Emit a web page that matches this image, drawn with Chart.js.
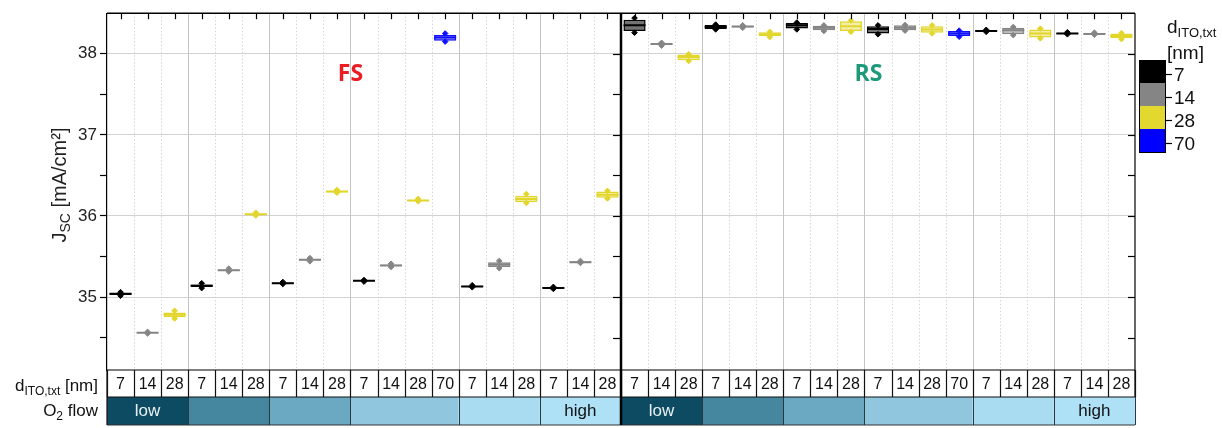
<!DOCTYPE html>
<html><head><meta charset="utf-8">
<script src="https://cdn.jsdelivr.net/npm/chart.js@4.4.1/dist/chart.umd.min.js"></script>
<style>html,body{margin:0;padding:0;background:#fff}#wrap{width:1222px;height:428px;position:relative}</style>
</head><body><div id="wrap"><canvas id="c" width="1222" height="428"></canvas></div>
<script>
// ---------- data ----------
const panels = ['FS', 'RS'];
const dITO = ['7','14','28','7','14','28','7','14','28','7','14','28','70','7','14','28','7','14','28'];
const o2Groups = ['low','','','','','high'];
const o2GroupSizes = [3,3,3,4,3,3];
const legendValues = ['7','14','28','70'];
const yTickValues = [34.5,35,35.5,36,36.5,37,37.5,38];

const fsQ1  = [35.025,34.555,34.75,35.125,35.32,36.01,35.165,35.45,36.29,35.195,35.38,36.185,38.16,35.125,35.37,36.17,35.105,35.425,36.225];
const fsMed = [35.04,34.56,34.78,35.14,35.33,36.02,35.17,35.46,36.30,35.20,35.39,36.19,38.20,35.13,35.40,36.21,35.11,35.43,36.26];
const fsQ3  = [35.05,34.565,34.81,35.155,35.34,36.03,35.18,35.47,36.31,35.205,35.40,36.20,38.23,35.14,35.43,36.25,35.12,35.44,36.30];
const fsMin = [35.015,34.55,34.735,35.11,35.315,36.005,35.16,35.44,36.285,35.19,35.37,36.18,38.15,35.12,35.355,36.16,35.10,35.42,36.215];
const fsMax = [35.06,34.57,34.83,35.17,35.35,36.04,35.185,35.48,36.32,35.21,35.41,36.21,38.25,35.145,35.445,36.27,35.125,35.445,36.31];

const rsQ1  = [38.28,38.11,37.92,38.305,38.325,38.215,38.31,38.29,38.28,38.25,38.29,38.26,38.22,38.275,38.24,38.20,38.245,38.24,38.19];
const rsMed = [38.35,38.12,37.96,38.33,38.335,38.24,38.35,38.32,38.34,38.305,38.32,38.30,38.25,38.28,38.29,38.25,38.25,38.245,38.22];
const rsQ3  = [38.42,38.13,37.99,38.355,38.345,38.265,38.38,38.345,38.40,38.34,38.35,38.34,38.28,38.29,38.32,38.30,38.26,38.255,38.25];
const rsMin = [38.26,38.10,37.91,38.30,38.32,38.205,38.30,38.28,38.27,38.24,38.285,38.25,38.21,38.27,38.23,38.19,38.24,38.235,38.18];
const rsMax = [38.44,38.135,37.995,38.36,38.35,38.27,38.385,38.35,38.41,38.35,38.355,38.35,38.285,38.295,38.33,38.31,38.265,38.26,38.255];

// ---------- styles ----------
const FONT = "'Liberation Sans', Arial, sans-serif";
const lineColors = {'7':'#000000','14':'#858585','28':'#e2d62c','70':'#1010ff'};
const fillColors = {'7':'rgba(0,0,0,0.55)','14':'rgba(133,133,133,0.5)','28':'rgba(226,214,44,0.4)','70':'rgba(16,16,255,0.4)'};
const legendColors = {'7':'#000000','14':'#858585','28':'#e3d82e','70':'#0000ff'};
const o2Colors = ['#0d4b63','#45879f','#6ba9c2','#90c7de','#a9dcf1','#aee1f6'];
const o2TextColors = ['#e8f0f3','#111','#111','#111','#111','#111'];
const panelColors = {'FS':'#ec1c24','RS':'#1e9a7b'};

const N = dITO.length;
const labels = panels.flatMap(() => dITO);
const q1 = fsQ1.concat(rsQ1), q3 = fsQ3.concat(rsQ3), med = fsMed.concat(rsMed);
const mins = fsMin.concat(rsMin), maxs = fsMax.concat(rsMax);
const groupEnds = [];
o2GroupSizes.reduce((s, g) => { s += g; groupEnds.push(s); return s; }, 0);

function richText(ctx, parts, x, y, align, color) {
  let w = 0;
  parts.forEach(p => { ctx.font = p[1] + 'px ' + FONT; w += ctx.measureText(p[0]).width; });
  let cx = align === 'right' ? x - w : align === 'center' ? x - w / 2 : x;
  ctx.textAlign = 'left'; ctx.textBaseline = 'alphabetic'; ctx.fillStyle = color || '#111';
  parts.forEach(p => { ctx.font = p[1] + 'px ' + FONT; ctx.fillText(p[0], cx, y + (p[2] || 0)); cx += ctx.measureText(p[0]).width; });
}
function seg(ctx, x0, y0, x1, y1, w, c) {
  ctx.beginPath(); ctx.lineWidth = w; ctx.strokeStyle = c || '#000';
  ctx.moveTo(x0, y0); ctx.lineTo(x1, y1); ctx.stroke();
}

const decor = {
  id: 'decor',
  beforeDatasetsDraw(chart) {
    const {ctx, chartArea: a, scales: {x}} = chart;
    ctx.save();
    for (let k = 1; k < labels.length; k++) {
      if (k === N) continue;
      const px = Math.round(x.getPixelForValue(k - 0.5)) + 0.5;
      const isGroup = groupEnds.includes(k % N);
      ctx.setLineDash(isGroup ? [] : [1.5, 2]);
      seg(ctx, px, a.top, px, a.bottom, 1, isGroup ? '#c4c4c4' : '#d6d6d6');
    }
    ctx.restore();
  },
  afterDatasetsDraw(chart) {
    const {ctx, chartArea: a, scales: {x, y}} = chart;
    ctx.save();
    const r1 = a.bottom, r2 = a.bottom + 27, r3 = a.bottom + 55;
    seg(ctx, a.left, a.top, a.right, a.top, 1.5);
    labels.forEach((_, i) => { const px = Math.round(x.getPixelForValue(i)) + 0.5; seg(ctx, px, a.top, px, a.top + 6, 1.2); });
    seg(ctx, a.right, a.top, a.right, r3, 1.2);
    yTickValues.forEach(v => { const py = Math.round(y.getPixelForValue(v)) + 0.5; seg(ctx, a.right - 7, py, a.right, py, 1.2); });
    seg(ctx, a.left, r1, a.right, r1, 1.2);
    panels.forEach((p, pi) => {
      let s = pi * N;
      o2GroupSizes.forEach((g, gi) => {
        const x0 = x.getPixelForValue(s - 0.5), x1 = x.getPixelForValue(s + g - 0.5);
        ctx.fillStyle = o2Colors[gi]; ctx.fillRect(x0, r2, x1 - x0, r3 - r2);
        if (o2Groups[gi]) {
          ctx.font = '17px ' + FONT; ctx.textAlign = 'center'; ctx.textBaseline = 'alphabetic';
          ctx.fillStyle = o2TextColors[gi]; ctx.fillText(o2Groups[gi], (x0 + x1) / 2, r3 - 9);
        }
        s += g;
      });
    });
    for (let k = 0; k <= labels.length; k++) {
      const px = Math.round(x.getPixelForValue(k - 0.5)) + 0.5;
      seg(ctx, px, r1, px, r2, 1.2, '#111');
    }
    panels.forEach((p, pi) => {
      [0].concat(groupEnds).forEach(e => {
        const px = Math.round(x.getPixelForValue(pi * N + e - 0.5)) + 0.5;
        seg(ctx, px, r2, px, r3, 1, '#2a3940');
      });
    });
    seg(ctx, a.left, r2, a.right, r2, 1.2, '#111');
    seg(ctx, a.left, r3, a.right, r3, 1.2, '#333');
    seg(ctx, a.left, a.bottom, a.left, r3, 1.2, '#111');
    const dx = x.getPixelForValue(N - 0.5);
    seg(ctx, dx, a.top, dx, r3, 2.5, '#000');
    yTickValues.forEach(v => { const py = Math.round(y.getPixelForValue(v)) + 0.5; seg(ctx, dx - 8, py, dx, py, 1.2); });
    panels.forEach((p, pi) => {
      ctx.font = 'bold 23px "Open Sans", sans-serif'; ctx.textAlign = 'center'; ctx.textBaseline = 'alphabetic';
      ctx.fillStyle = panelColors[p];
      ctx.fillText(p, x.getPixelForValue(pi * N + groupEnds[2] - 0.5) + pi * 4, y.getPixelForValue(37.67));
    });
    richText(ctx, [['d', 17], ['ITO,txt', 12, 4], [' [nm]', 17]], 98, r1 + 21, 'right');
    richText(ctx, [['O', 17], ['2', 12, 4], [' flow', 17]], 98, r3 - 9, 'right');
    ctx.save();
    ctx.translate(59, 185); ctx.rotate(-Math.PI / 2);
    richText(ctx, [['J', 20], ['SC', 14, 4], [' [mA/cm²]', 20]], 0, 7, 'center', '#222');
    ctx.restore();
    const lx = 1139, lw = 26, ly = 60, lh = 23;
    legendValues.forEach((v, i) => {
      ctx.fillStyle = legendColors[v]; ctx.fillRect(lx, ly + i * lh, lw, lh);
      const cy = Math.round(ly + i * lh + lh / 2 + 2) + 0.5;
      seg(ctx, lx + lw, cy, lx + lw + 7, cy, 1.2);
      ctx.font = '19px ' + FONT; ctx.textAlign = 'left'; ctx.textBaseline = 'middle'; ctx.fillStyle = '#111';
      ctx.fillText(v, lx + lw + 9, cy + 1);
    });
    ctx.lineWidth = 1; ctx.strokeStyle = '#000'; ctx.strokeRect(lx + 0.5, ly + 0.5, lw, lh * legendValues.length);
    richText(ctx, [['d', 19], ['ITO,txt', 13, 4]], 1167, 33, 'left');
    richText(ctx, [['[nm]', 19]], 1167, 59, 'left');
    ctx.restore();
  }
};

new Chart(document.getElementById('c'), {
  type: 'bar',
  data: {
    labels: labels,
    datasets: [
      { type: 'bar', label: 'box', data: labels.map((_, i) => [q1[i], q3[i]]),
        backgroundColor: labels.map(l => fillColors[l]), borderColor: labels.map(l => lineColors[l]),
        borderWidth: 1.5, borderSkipped: false, barPercentage: 0.82, categoryPercentage: 1.0, order: 3 },
      { type: 'line', label: 'median', data: med, showLine: false, pointStyle: 'line', pointRadius: 11,
        pointBorderWidth: 2, pointBorderColor: labels.map(l => lineColors[l]), order: 2 },
      { type: 'line', label: 'min', data: mins, showLine: false, pointStyle: 'rectRot', pointRadius: 2.8,
        pointBorderWidth: 1, pointBackgroundColor: labels.map(l => lineColors[l]), pointBorderColor: labels.map(l => lineColors[l]), order: 1 },
      { type: 'line', label: 'max', data: maxs, showLine: false, pointStyle: 'rectRot', pointRadius: 2.8,
        pointBorderWidth: 1, pointBackgroundColor: labels.map(l => lineColors[l]), pointBorderColor: labels.map(l => lineColors[l]), order: 1 }
    ]
  },
  options: {
    responsive: false, animation: false,
    layout: { padding: { left: 0, right: 87, top: 10, bottom: 0 } },
    plugins: { legend: { display: false }, tooltip: { enabled: false } },
    scales: {
      x: {
        afterFit: s => { s.height = 58; },
        grid: { display: false, drawTicks: false }, border: { display: false },
        ticks: { autoSkip: false, maxRotation: 0, minRotation: 0, padding: 5, color: '#111', font: { family: FONT, size: 16 } }
      },
      y: {
        min: 34.1, max: 38.5,
        afterFit: s => { s.width = 107; },
        afterBuildTicks: s => { s.ticks = yTickValues.map(v => ({ value: v })); },
        ticks: { callback: v => Number.isInteger(v) ? String(v) : '', padding: 3, color: '#222', font: { family: FONT, size: 17 } },
        grid: { color: c => (c.tick && Number.isInteger(c.tick.value)) ? '#d2d2d2' : 'rgba(0,0,0,0)', tickColor: '#000', tickLength: 7, tickWidth: 1.2 },
        border: { display: true, color: '#000', width: 1.2 }
      }
    }
  },
  plugins: [decor]
});
</script></body></html>
